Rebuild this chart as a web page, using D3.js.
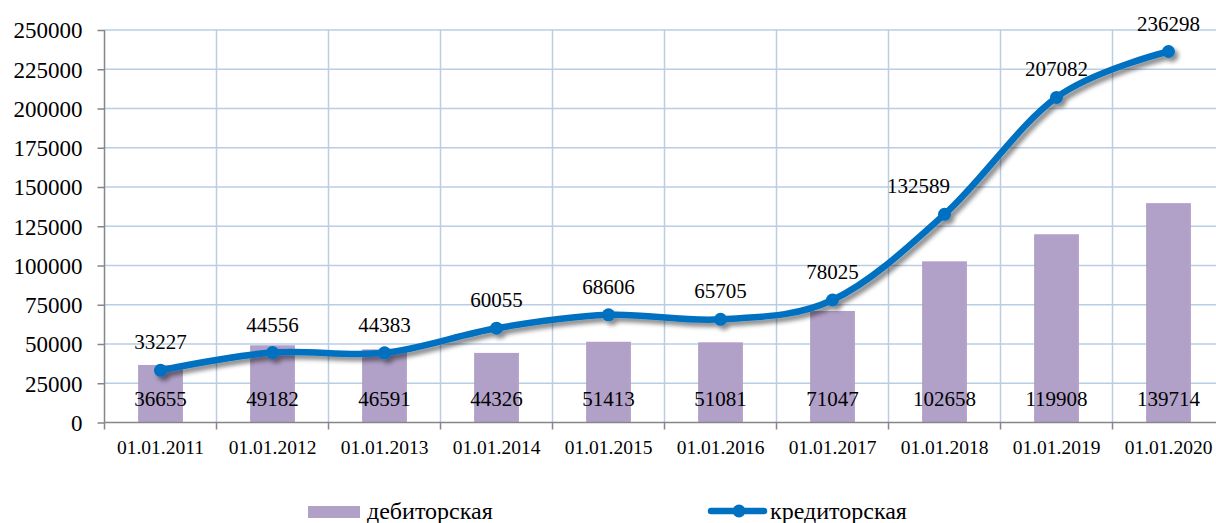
<!DOCTYPE html>
<html>
<head>
    <meta charset="UTF-8">
    <title>Дебиторская и кредиторская задолженность</title>
    <script src="https://d3js.org/d3.v7.min.js"></script>
    <style>
        body { margin: 0; background: #fff; }
    </style>
</head>
<body>
<svg></svg>
<script>
    // data
    const categories = ["01.01.2011", "01.01.2012", "01.01.2013", "01.01.2014", "01.01.2015",
        "01.01.2016", "01.01.2017", "01.01.2018", "01.01.2019", "01.01.2020"];
    const debitValues = [36655, 49182, 46591, 44326, 51413, 51081, 71047, 102658, 119908, 139714];
    const creditValues = [33227, 44556, 44383, 60055, 68606, 65705, 78025, 132589, 207082, 236298];
    const yTicks = [0, 25000, 50000, 75000, 100000, 125000, 150000, 175000, 200000, 225000, 250000];
    const seriesNames = ["дебиторская", "кредиторская"];

    const width = 1216;
    const height = 523;
    const plotLeft = 104.5;
    const plotRight = 1224.5; // plot runs a little past the picture edge
    const plotTop = 30;
    const plotBottom = 422.5;

    const font = "'Liberation Serif', 'Times New Roman', serif";
    const barColor = "#b1a0c7";
    const lineColor = "#0070c0";
    const gridColor = "#b9cde5";
    const axisColor = "#868686";

    const svg = d3.select("svg")
        .attr("width", width)
        .attr("height", height);

    const defs = svg.append("defs");
    defs.append("filter")
        .attr("id", "shadow")
        .attr("x", "-10%").attr("y", "-10%")
        .attr("width", "130%").attr("height", "140%")
        .append("feDropShadow")
        .attr("dx", 3.5).attr("dy", 4)
        .attr("stdDeviation", 2.2)
        .attr("flood-color", "#000")
        .attr("flood-opacity", 0.45);

    const xScale = d3.scaleBand()
        .domain(categories)
        .range([plotLeft, plotRight])
        .padding(0);

    const yScale = d3.scaleLinear()
        .domain([0, 250000])
        .range([plotBottom, plotTop]);

    const cx = d => xScale(d) + xScale.bandwidth() / 2;

    // gridlines
    svg.append("g")
        .selectAll("line")
        .data(yTicks.slice(1))
        .join("line")
        .attr("x1", plotLeft).attr("x2", plotRight)
        .attr("y1", d => yScale(d)).attr("y2", d => yScale(d))
        .style("stroke", gridColor)
        .style("stroke-width", 1.5);

    svg.append("g")
        .selectAll("line")
        .data(categories.slice(1))
        .join("line")
        .attr("x1", d => xScale(d)).attr("x2", d => xScale(d))
        .attr("y1", plotTop).attr("y2", plotBottom)
        .style("stroke", gridColor)
        .style("stroke-width", 1.5);

    // bars
    const barWidth = xScale.bandwidth() * 0.4;
    svg.append("g")
        .selectAll("rect")
        .data(categories)
        .join("rect")
        .attr("x", d => cx(d) - barWidth / 2)
        .attr("y", (d, i) => yScale(debitValues[i]))
        .attr("width", barWidth)
        .attr("height", (d, i) => plotBottom - yScale(debitValues[i]))
        .style("fill", barColor);

    // axes
    const yAxis = d3.axisLeft(yScale).tickValues(yTicks).tickSize(7).tickPadding(15).tickFormat(d3.format("d"));
    svg.append("g")
        .attr("transform", `translate(${plotLeft},0)`)
        .call(yAxis)
        .attr("font-family", font)
        .attr("font-size", 23)
        .call(g => g.select(".domain").attr("d", `M0,${plotTop}V${plotBottom}`).style("stroke", axisColor).style("stroke-width", 1.5))
        .call(g => g.selectAll(".tick line").style("stroke", axisColor).style("stroke-width", 1.5))
        .call(g => g.selectAll(".tick text").attr("fill", "#000").attr("dy", "0.34em"));

    const xAxis = d3.axisBottom(xScale).tickSize(0).tickPadding(18);
    svg.append("g")
        .attr("transform", `translate(0,${plotBottom})`)
        .call(xAxis)
        .attr("font-family", font)
        .attr("font-size", 19.5)
        .call(g => g.select(".domain").attr("d", `M${plotLeft},0H${plotRight}`).style("stroke", axisColor).style("stroke-width", 1.5))
        .call(g => g.selectAll(".tick text").attr("fill", "#000"));

    // category separators below the axis
    svg.append("g")
        .selectAll("line")
        .data(categories)
        .join("line")
        .attr("x1", d => xScale(d)).attr("x2", d => xScale(d))
        .attr("y1", plotBottom).attr("y2", plotBottom + 7)
        .style("stroke", axisColor)
        .style("stroke-width", 1.5);

    // bar labels, inside base
    svg.append("g")
        .attr("font-family", font)
        .attr("font-size", 21)
        .selectAll("text")
        .data(categories)
        .join("text")
        .attr("x", d => cx(d))
        .attr("y", plotBottom - 17)
        .attr("text-anchor", "middle")
        .text((d, i) => debitValues[i]);

    // smoothed line with markers
    const line = d3.line()
        .x(d => cx(d[0]))
        .y(d => yScale(d[1]))
        .curve(d3.curveCatmullRom.alpha(0));

    const creditPoints = categories.map((c, i) => [c, creditValues[i]]);
    const lineGroup = svg.append("g").attr("filter", "url(#shadow)");
    lineGroup.append("path")
        .datum(creditPoints)
        .attr("d", line)
        .style("fill", "none")
        .style("stroke", lineColor)
        .style("stroke-width", 6.5)
        .style("stroke-linecap", "round");

    lineGroup.selectAll("circle")
        .data(creditPoints)
        .join("circle")
        .attr("cx", d => cx(d[0]))
        .attr("cy", d => yScale(d[1]))
        .attr("r", 6.5)
        .style("fill", lineColor);

    // line labels above points (2018 label sits a bit to the left)
    svg.append("g")
        .attr("font-family", font)
        .attr("font-size", 21)
        .selectAll("text")
        .data(creditPoints)
        .join("text")
        .attr("x", (d, i) => cx(d[0]) + (i === 7 ? -26 : 0))
        .attr("y", d => yScale(d[1]) - 21)
        .attr("text-anchor", "middle")
        .text(d => d[1]);

    // legend
    const legend = svg.append("g")
        .attr("font-family", font)
        .attr("font-size", 24);
    legend.append("rect")
        .attr("x", 308).attr("y", 506)
        .attr("width", 52).attr("height", 12)
        .style("fill", barColor);
    legend.append("text")
        .attr("x", 367).attr("y", 519)
        .text(seriesNames[0]);

    legend.append("line")
        .attr("x1", 711).attr("x2", 764)
        .attr("y1", 511).attr("y2", 511)
        .style("stroke", lineColor)
        .style("stroke-width", 6.5)
        .style("stroke-linecap", "round");
    legend.append("circle")
        .attr("cx", 739).attr("cy", 511)
        .attr("r", 6.5)
        .style("fill", lineColor);
    legend.append("text")
        .attr("x", 770).attr("y", 519)
        .text(seriesNames[1]);
</script>
</body>
</html>
